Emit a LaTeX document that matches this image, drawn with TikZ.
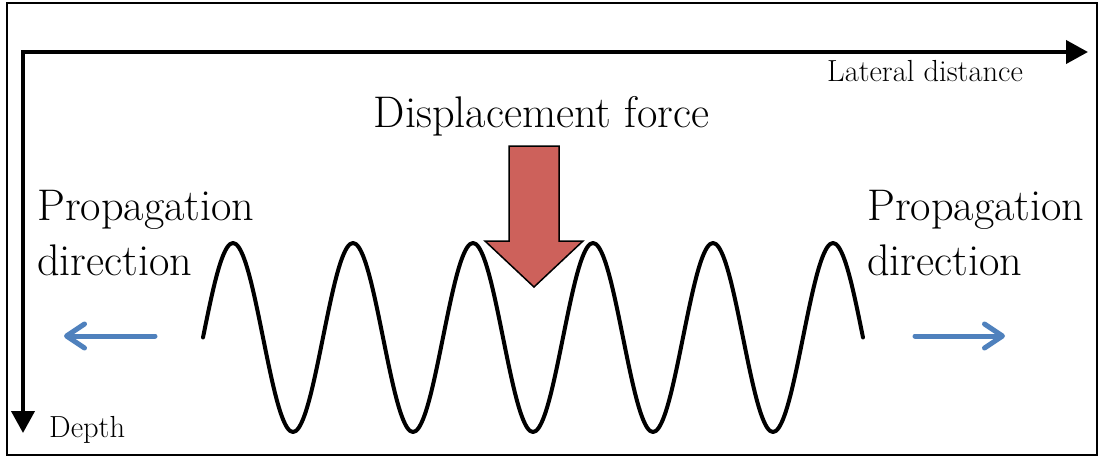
\documentclass[tikz,border=0pt]{standalone}
\usetikzlibrary{arrows.meta}
\definecolor{forcered}{RGB}{205,97,91}
\definecolor{propblue}{RGB}{79,129,189}
\begin{document}
\begin{tikzpicture}[x=1pt,y=-1pt,
  axis/.style={line width=4pt,{Triangle[length=22pt,width=23pt]}-{Triangle[length=22pt,width=23pt]}},
  bigtext/.style={inner sep=0pt,font=\fontsize{44.3}{52}\selectfont},
  smalltext/.style={inner sep=0pt,font=\fontsize{30.5}{36}\selectfont},
  proparrow/.style={draw=propblue,line width=5pt,line cap=round,-{Straight Barb[length=18pt,width=24pt,line cap=round,line join=round]}},
  wave/.style={line width=4pt,line cap=round,line join=round},
  forcearrow/.style={draw=black,line width=1.5pt,fill=forcered,line join=miter}]
\useasboundingbox (0,0) rectangle (1104,458);
\draw[line width=1.6pt] (7,3) rectangle (1097,455);
% axes
\coordinate (origin) at (23,52);
\coordinate (xend) at (1088,52);
\coordinate (yend) at (23,433);
\draw[axis] (xend) -- (origin) -- (yend);
\node[smalltext,anchor=base west] (lat) at (827,81) {Lateral distance};
\node[smalltext,anchor=base west] (depth) at (49,437) {Depth};
% force label and arrow
\node[bigtext,anchor=base] (force) at (541.5,127) {Displacement force};
\draw[forcearrow] (509,146) -- (559,146) -- (559,241) -- (583,241) -- (534,287) -- (485,241) -- (509,241) -- cycle;
% wave
\draw[wave] plot[domain=203:863,samples=221,smooth] (\x,{337.5-94.5*sin(3*(\x-203))});
% propagation labels
\node[bigtext,anchor=base west] (propL) at (37,220) {Propagation};
\node[bigtext,anchor=base west] (dirL) at (37,275) {direction};
\node[bigtext,anchor=base west] (propR) at (867,220) {Propagation};
\node[bigtext,anchor=base west] (dirR) at (867,275) {direction};
% propagation arrows
\coordinate (lstart) at (155,336);
\coordinate (lend) at (64,336);
\coordinate (rstart) at (915,336);
\coordinate (rend) at (1005,336);
\draw[proparrow] (lstart) -- (lend);
\draw[proparrow] (rstart) -- (rend);
\end{tikzpicture}
\end{document}
